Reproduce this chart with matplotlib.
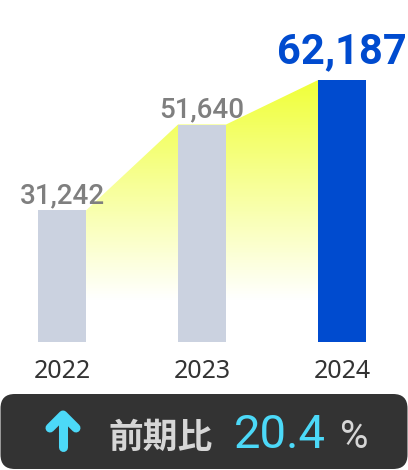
import numpy as np
import matplotlib
matplotlib.use("Agg")
import matplotlib.pyplot as plt
from matplotlib.patches import Polygon, FancyBboxPatch
from matplotlib.colors import LinearSegmentedColormap
from matplotlib.lines import Line2D

# data
years = ["2022", "2023", "2024"]
values = [31242, 51640, 62187]
value_labels = ["31,242", "51,640", "62,187"]
growth_label = "前期比"
growth_value = "20.4"
growth_unit = "%"

bar_colors = ["#cbd2e0", "#cbd2e0", "#004bcf"]
label_colors = ["#7f7f7f", "#7f7f7f", "#004bcf"]

W, H = 408, 470
fig = plt.figure(figsize=(W / 100, H / 100), dpi=100)
fig.patch.set_facecolor("white")

# plot area: baseline at 342px from top, full width
ax = fig.add_axes([0, 128 / H, 1, 342 / H])
ax.set_xlim(-0.443, 2.471)
ax.set_ylim(0, 81200)
ax.axis("off")

bw = 0.343
x = np.arange(len(values))

# yellow gradient area between bars
pts = [(x[0] + bw / 2, 0), (x[0] + bw / 2, values[0]), (x[1] - bw / 2, values[1]),
       (x[1] + bw / 2, values[1]), (x[2] - bw / 2, values[2]), (x[2] - bw / 2, 0)]
poly = Polygon(pts, closed=True, transform=ax.transData, facecolor="none", edgecolor="none")
ax.add_patch(poly)
cmap = LinearSegmentedColormap.from_list("yw", ["#ffffff", "#ffffff", "#f0ff3a"])
grad = np.linspace(0, 1, 256).reshape(-1, 1)
white_at = 10000
lo = white_at / values[2]
grad = np.clip((grad - lo) / (1 - lo), 0, 1) * 0.5 + 0.5
grad[grad <= 0.5] = 0
im = ax.imshow(grad, extent=[x[0], x[2], 0, values[2]], origin="lower", aspect="auto",
               cmap=cmap, vmin=0, vmax=1, zorder=1)
im.set_clip_path(poly)

ax.bar(x, values, width=bw, color=bar_colors, zorder=2)

# value labels
sizes = [20, 20, 30]
offs = [5, 5.5, 12]
for i in range(len(values)):
    ax.annotate(value_labels[i], (x[i], values[i]), xytext=(0, offs[i]), textcoords="offset points",
                ha="center", va="baseline", fontsize=sizes[i], color=label_colors[i],
                family="Roboto", fontweight="bold" if i == 2 else "medium")

# year labels
for i in range(len(years)):
    ax.annotate(years[i], (x[i], 0), xytext=(0, -26), textcoords="offset points",
                ha="center", va="baseline", fontsize=18, color="#333333", family="Noto Sans",
                fontweight="medium")

# bottom box
box = FancyBboxPatch((0.5 / W, 1 / H), (W - 1) / W, 75 / H, boxstyle="round,pad=0,rounding_size=0.035",
                     transform=fig.transFigure, facecolor="#333333", edgecolor="none",
                     mutation_aspect=W / H)
fig.add_artist(box)

# up arrow icon
cyan = "#4cd9f8"
ax_x = 63 / W
fig.add_artist(Line2D([ax_x, ax_x], [1 - 447 / H, 1 - 416 / H], color=cyan, lw=6.5,
                      solid_capstyle="round", transform=fig.transFigure))
fig.add_artist(Line2D([50 / W, ax_x, 76 / W], [1 - 428 / H, 1 - 415 / H, 1 - 428 / H], color=cyan,
                      lw=6.5, solid_capstyle="round", solid_joinstyle="round", transform=fig.transFigure))

base_y = 1 - 448 / H
fig.text(108 / W, base_y, growth_label, ha="left", va="baseline", fontsize=25, color="#d6d6d6",
         family=["Noto Sans CJK JP", "DejaVu Sans"], fontweight="bold")
fig.text(234 / W, base_y, growth_value, ha="left", va="baseline", fontsize=34, color=cyan,
         family="Roboto")
fig.text(340 / W, base_y, growth_unit, ha="left", va="baseline", fontsize=28, color="#d6d6d6",
         family="Roboto")

fig.savefig("out.png", dpi=100)
